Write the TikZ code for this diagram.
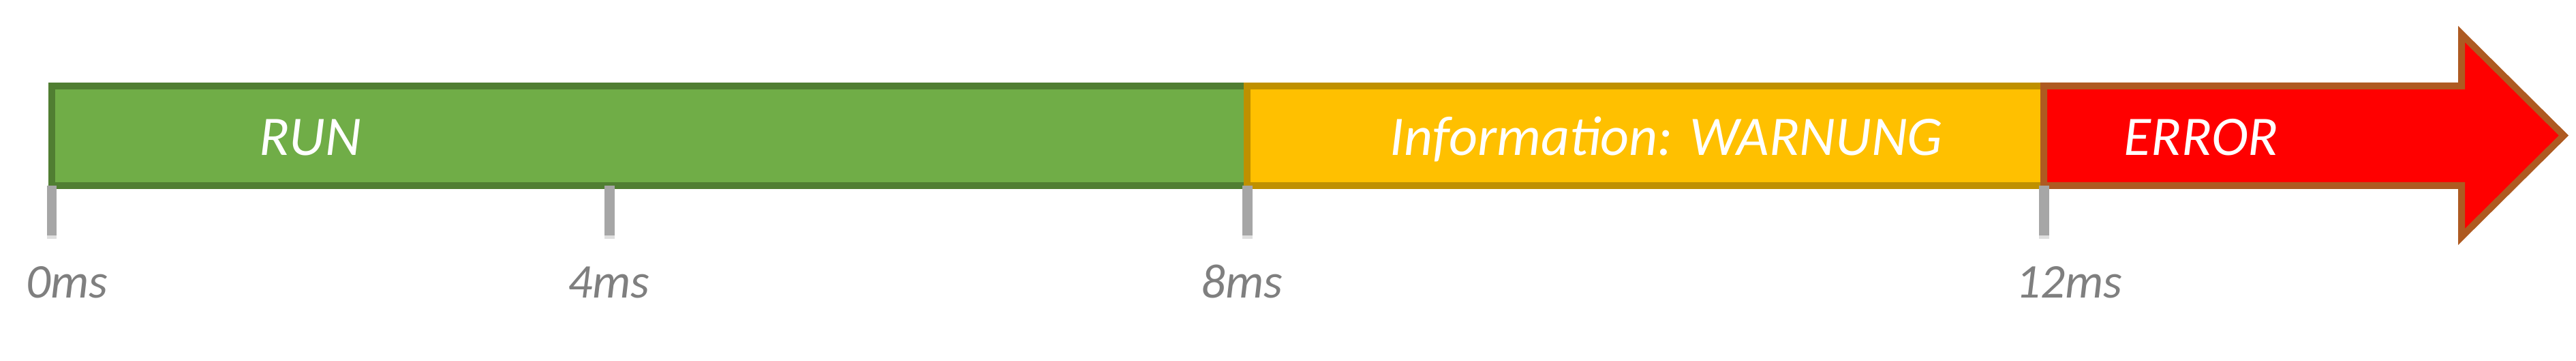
\documentclass[tikz,border=0pt]{standalone}
\usepackage{fontspec}
\setmainfont{Carlito}
\usetikzlibrary{shadows}
\definecolor{rungreen}{HTML}{70AD47}
\definecolor{rundark}{HTML}{507E32}
\definecolor{warnyellow}{HTML}{FFC000}
\definecolor{warndark}{HTML}{BF9000}
\definecolor{errred}{HTML}{FF0000}
\definecolor{errdark}{HTML}{AE5A21}
\definecolor{tickgrey}{HTML}{A6A6A6}
\definecolor{labelgrey}{HTML}{7F7F7F}
\begin{document}
\begin{tikzpicture}[bar/.style={line width=0.1cm, line join=miter},
        barlabel/.style={anchor=base, inner sep=0, text=white, font=\itshape\fontsize{23.3}{28}\selectfont},
        tickmark/.style={fill=tickgrey, inner sep=0, minimum width=0.15cm, minimum height=0.73cm,
            drop shadow={shadow xshift=0cm, shadow yshift=-0.05cm, opacity=0.25}},
        ticklabel/.style={anchor=base, inner sep=0, text=labelgrey, font=\itshape\fontsize{20.2}{24}\selectfont}]
            \useasboundingbox (0,0) rectangle (37.8,5.28);
            % phases
            \draw[bar, fill=rungreen, draw=rundark] (0.76,4.02) rectangle (18.30,2.56);
            \draw[bar, fill=warnyellow, draw=warndark] (18.30,4.02) rectangle (29.99,2.56);
            \draw[bar, fill=errred, draw=errdark] (29.99,4.02)
            --++(6.13,0)
            --++(0,0.76)
            --(37.62,3.295)
            --(36.12,1.81)
            --++(0,0.75)
            --(29.99,2.56) -- cycle;
            \node[barlabel] (run) at (4.55,3.00) {RUN};
            \node[barlabel] (warn) at (24.45,3.00) {Information: WARNUNG};
            \node[barlabel] (err) at (32.30,3.00) {ERROR};
            %
            \foreach \x/\tx/\lx in {0.76/0/0.98, 8.94/4/8.93, 18.30/8/18.22, 29.99/12/30.36}{
                \node[tickmark] (tick\tx) at (\x,2.195) {};
                \node[ticklabel] (lbl\tx) at (\lx,0.91) {\tx ms};
            }
        \end{tikzpicture}
\end{document}
